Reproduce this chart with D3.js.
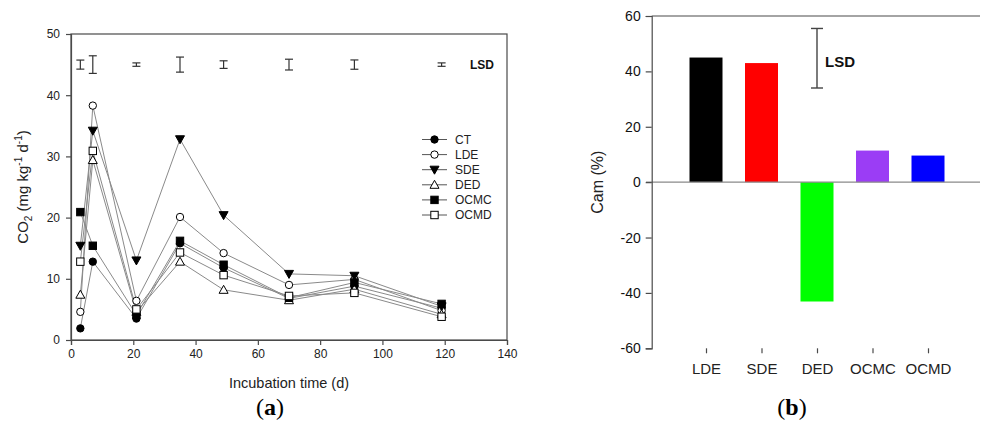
<!DOCTYPE html>
<html>
<head>
<meta charset="utf-8">
<script src="https://cdn.jsdelivr.net/npm/d3@7"></script>
<style>
  html, body { margin: 0; padding: 0; background: #fff; }
  svg { display: block; font-family: "Liberation Sans", Arial, sans-serif; }
</style>
</head>
<body>
<svg id="fig" width="982" height="437"></svg>
<script>
// ---- Panel (a): CO2 evolution over incubation time ----
const days = [3, 7, 21, 35, 49, 70, 91, 119];
const seriesNames = ["CT", "LDE", "SDE", "DED", "OCMC", "OCMD"];
const ctValues   = [1.9, 12.8, 3.5, 15.8, 11.8, 6.8, 8.8, 5.2];
const ldeValues  = [4.6, 38.3, 6.4, 20.1, 14.2, 9.0, 9.9, 4.8];
const sdeValues  = [15.4, 34.2, 13.0, 32.8, 20.4, 10.8, 10.5, 5.5];
const dedValues  = [7.4, 29.4, 4.6, 12.8, 8.2, 6.5, 8.3, 4.2];
const ocmcValues = [20.9, 15.4, 4.1, 16.2, 12.3, 6.9, 9.4, 5.9];
const ocmdValues = [12.8, 30.9, 5.0, 14.3, 10.6, 7.2, 7.7, 3.8];
const seriesValues = [ctValues, ldeValues, sdeValues, dedValues, ocmcValues, ocmdValues];
const lsdCenter = 45;
const lsdHalf = [0.74, 1.44, 0.28, 1.23, 0.62, 0.88, 0.76, 0.28];
const xTicksA = [0, 20, 40, 60, 80, 100, 120, 140];
const yTicksA = [0, 10, 20, 30, 40, 50];

// ---- Panel (b): Cam (%) per treatment ----
const camCategories = ["LDE", "SDE", "DED", "OCMC", "OCMD"];
const camValues = [45.0, 43.0, -43.1, 11.4, 9.6];
const camColors = ["#000000", "#ff0000", "#00ff00", "#9b3df5", "#0000ff"];
const camLsdCenter = 44.75;
const camLsdHalf = 10.75;
const yTicksB = [60, 40, 20, 0, -20, -40, -60];

const svg = d3.select("#fig");
const axisColor = "#4a4a4a";
// plain hyphen for negative tick labels
const plainFmt = d => String(d);

// ================= Panel (a) =================
const xA = d3.scaleLinear().domain([0, 140]).range([71, 507]);
const yA = d3.scaleLinear().domain([0, 50]).range([340, 34]);
const gA = svg.append("g");

// frame
gA.append("rect")
  .attr("x", xA(0)).attr("y", yA(50))
  .attr("width", xA(140) - xA(0)).attr("height", yA(0) - yA(50))
  .attr("fill", "none").attr("stroke", axisColor).attr("stroke-width", 1.2);

// axes
const xAxisA = gA.append("g").attr("transform", `translate(0,${yA(0)})`)
  .call(d3.axisBottom(xA).tickValues(xTicksA).tickSize(5).tickPadding(4).tickFormat(plainFmt));
const yAxisA = gA.append("g").attr("transform", `translate(${xA(0)},0)`)
  .call(d3.axisLeft(yA).tickValues(yTicksA).tickSize(5).tickPadding(6).tickFormat(plainFmt));
[xAxisA, yAxisA].forEach(ax => {
  ax.select(".domain").attr("stroke", axisColor).attr("stroke-width", 1.2);
  ax.selectAll(".tick line").attr("stroke", axisColor).attr("stroke-width", 1.2);
  ax.selectAll(".tick text").attr("fill", "#222").style("font-size", "12px")
    .style("font-family", "'Liberation Sans', Arial, sans-serif");
});

// axis titles
gA.append("text")
  .attr("x", (xA(0) + xA(140)) / 2).attr("y", 388)
  .attr("text-anchor", "middle").attr("fill", "#222").style("font-size", "14.5px")
  .text("Incubation time (d)");

const yLab = gA.append("text")
  .attr("transform", `translate(28,${(yA(0) + yA(50)) / 2}) rotate(-90)`)
  .attr("text-anchor", "middle").attr("fill", "#222").style("font-size", "15px");
yLab.append("tspan").text("CO");
yLab.append("tspan").attr("dy", 4).style("font-size", "10px").text("2");
yLab.append("tspan").attr("dy", -4).text(" (mg kg");
yLab.append("tspan").attr("dy", -6).style("font-size", "10px").text("-1");
yLab.append("tspan").attr("dy", 6).text(" d");
yLab.append("tspan").attr("dy", -6).style("font-size", "10px").text("-1");
yLab.append("tspan").attr("dy", 6).text(")");

// LSD bars along the top
const lsdG = gA.append("g").attr("stroke", "#333").attr("stroke-width", 1.2);
days.forEach((d, i) => {
  const x = xA(d), y1 = yA(lsdCenter + lsdHalf[i]), y2 = yA(lsdCenter - lsdHalf[i]);
  const cap = 4;
  lsdG.append("line").attr("x1", x).attr("x2", x).attr("y1", y1).attr("y2", y2);
  lsdG.append("line").attr("x1", x - cap).attr("x2", x + cap).attr("y1", y1).attr("y2", y1);
  lsdG.append("line").attr("x1", x - cap).attr("x2", x + cap).attr("y1", y2).attr("y2", y2);
});
gA.append("text")
  .attr("x", 470).attr("y", yA(lsdCenter)).attr("dy", "0.35em")
  .attr("fill", "#111").style("font-size", "12px").style("font-weight", "bold")
  .text("LSD");

// markers
function drawMarker(sel, name, x, y) {
  const s = 3.7;
  if (name === "CT" || name === "LDE") {
    sel.append("circle").attr("cx", x).attr("cy", y).attr("r", s)
      .attr("fill", name === "CT" ? "#000" : "#fff").attr("stroke", "#000").attr("stroke-width", 1);
  } else if (name === "OCMC" || name === "OCMD") {
    sel.append("rect").attr("x", x - s).attr("y", y - s).attr("width", 2 * s).attr("height", 2 * s)
      .attr("fill", name === "OCMC" ? "#000" : "#fff").attr("stroke", "#000").attr("stroke-width", 1);
  } else if (name === "SDE") {
    sel.append("path")
      .attr("d", `M${x - 4.5},${y - 3.5}L${x + 4.5},${y - 3.5}L${x},${y + 4.5}Z`)
      .attr("fill", "#000").attr("stroke", "#000").attr("stroke-width", 1);
  } else {
    sel.append("path")
      .attr("d", `M${x - 4.5},${y + 3.5}L${x + 4.5},${y + 3.5}L${x},${y - 4.5}Z`)
      .attr("fill", "#fff").attr("stroke", "#000").attr("stroke-width", 1);
  }
}

const line = d3.line().x(d => xA(d[0])).y(d => yA(d[1]));
const linesG = gA.append("g");
const marksG = gA.append("g");
seriesNames.forEach((name, si) => {
  const pts = days.map((d, i) => [d, seriesValues[si][i]]);
  linesG.append("path").attr("d", line(pts))
    .attr("fill", "none").attr("stroke", "#8a8a8a").attr("stroke-width", 1);
});
seriesNames.forEach((name, si) => {
  days.forEach((d, i) => drawMarker(marksG, name, xA(d), yA(seriesValues[si][i])));
});

// legend
const legG = gA.append("g");
seriesNames.forEach((name, i) => {
  const y = 139.5 + i * 15.1;
  legG.append("line").attr("x1", 422).attr("x2", 447).attr("y1", y).attr("y2", y)
    .attr("stroke", "#555").attr("stroke-width", 1);
  drawMarker(legG, name, 434.5, y);
  legG.append("text").attr("x", 455).attr("y", y).attr("dy", "0.35em")
    .attr("fill", "#222").style("font-size", "12px").text(name);
});

// ================= Panel (b) =================
const xB = d3.scalePoint().domain(camCategories).range([706, 928]);
const yB = d3.scaleLinear().domain([-60, 60]).range([348.3, 16]);
const gB = svg.append("g");
const barW = 33;

// top border
gB.append("line").attr("x1", 651.7).attr("x2", 980).attr("y1", yB(60)).attr("y2", yB(60))
  .attr("stroke", axisColor).attr("stroke-width", 1.2);

gB.selectAll("rect.bar").data(camCategories).enter().append("rect")
  .attr("class", "bar")
  .attr("x", d => xB(d) - barW / 2)
  .attr("y", (d, i) => yB(Math.max(0, camValues[i])))
  .attr("width", barW)
  .attr("height", (d, i) => Math.abs(yB(camValues[i]) - yB(0)))
  .attr("fill", (d, i) => camColors[i]);

// zero line
gB.append("line").attr("x1", 646).attr("x2", 980).attr("y1", yB(0)).attr("y2", yB(0))
  .attr("stroke", "#8a8a8a").attr("stroke-width", 1.2);

const yAxisB = gB.append("g").attr("transform", "translate(651.7,0)")
  .call(d3.axisLeft(yB).tickValues(yTicksB).tickSize(6).tickPadding(5).tickFormat(plainFmt));
yAxisB.select(".domain").attr("stroke", axisColor).attr("stroke-width", 1.2);
yAxisB.selectAll(".tick line").attr("stroke", axisColor).attr("stroke-width", 1.2);
yAxisB.selectAll(".tick text").attr("fill", "#111").style("font-size", "14px")
  .style("font-family", "'Liberation Sans', Arial, sans-serif");

// category ticks and labels below the plot
const xAxisB = gB.append("g").attr("transform", `translate(0,${yB(-60)})`)
  .call(d3.axisBottom(xB).tickSize(5).tickPadding(10));
xAxisB.select(".domain").remove();
xAxisB.selectAll(".tick line").attr("stroke", axisColor).attr("stroke-width", 1.2);
xAxisB.selectAll(".tick text").attr("fill", "#222").style("font-size", "15px")
  .style("font-family", "'Liberation Sans', Arial, sans-serif");

// y title
gB.append("text")
  .attr("transform", `translate(603,${yB(0)}) rotate(-90)`)
  .attr("text-anchor", "middle").attr("fill", "#222").style("font-size", "16px")
  .text("Cam (%)");

// LSD bar
const lx = xB("DED");
const ly1 = yB(camLsdCenter + camLsdHalf), ly2 = yB(camLsdCenter - camLsdHalf);
const lsdB = gB.append("g").attr("stroke", "#444").attr("stroke-width", 1.4);
lsdB.append("line").attr("x1", lx).attr("x2", lx).attr("y1", ly1).attr("y2", ly2);
lsdB.append("line").attr("x1", lx - 6).attr("x2", lx + 6).attr("y1", ly1).attr("y2", ly1);
lsdB.append("line").attr("x1", lx - 6).attr("x2", lx + 6).attr("y1", ly2).attr("y2", ly2);
gB.append("text").attr("x", lx + 8).attr("y", yB(43.5)).attr("dy", "0.35em")
  .attr("fill", "#111").style("font-size", "15px").style("font-weight", "bold").text("LSD");

// ================= Captions =================
function caption(x, letter) {
  const t = svg.append("text").attr("x", x).attr("y", 415).attr("text-anchor", "middle")
    .style("font-family", "'Liberation Serif', 'Times New Roman', serif").style("font-size", "24px")
    .attr("fill", "#000");
  t.append("tspan").text("(");
  t.append("tspan").style("font-weight", "bold").text(letter);
  t.append("tspan").text(")");
}
caption(270, "a");
caption(792, "b");
</script>
</body>
</html>
